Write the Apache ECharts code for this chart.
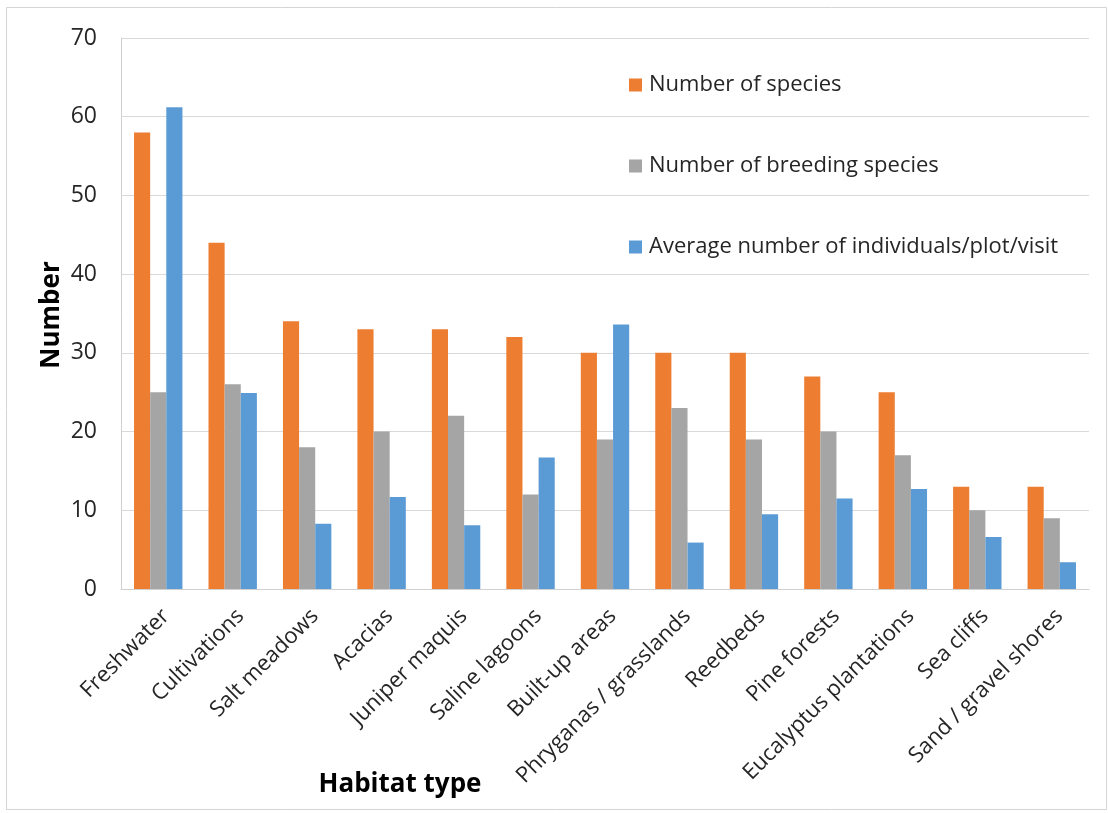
<!DOCTYPE html>
<html>
<head>
<meta charset="utf-8">
<script src="https://cdn.jsdelivr.net/npm/echarts@6/dist/echarts.min.js"></script>
<style>
  html, body { margin: 0; padding: 0; background: #fff; }
  #chart { width: 1108px; height: 813px; }
</style>
</head>
<body>
<div id="chart"></div>
<script>
// Habitat categories along the x axis
const habitats = [
  'Freshwater', 'Cultivations', 'Salt meadows', 'Acacias', 'Juniper maquis',
  'Saline lagoons', 'Built-up areas', 'Phryganas / grasslands', 'Reedbeds',
  'Pine forests', 'Eucalyptus plantations', 'Sea cliffs', 'Sand / gravel shores'
];

// Series values per habitat
const numberOfSpecies = [58, 44, 34, 33, 33, 32, 30, 30, 30, 27, 25, 13, 13];
const breedingSpecies = [25, 26, 18, 20, 22, 12, 19, 23, 19, 20, 17, 10, 9];
const avgIndividuals = [61.2, 24.9, 8.3, 11.7, 8.1, 16.7, 33.6, 5.9, 9.5, 11.5, 12.7, 6.6, 3.4];

const seriesNames = [
  'Number of species',
  'Number of breeding species',
  'Average number of individuals/plot/visit'
];
const seriesColors = ['#ED7D31', '#A5A5A5', '#5B9BD5'];

const FONT = '"Open Sans", "Liberation Sans", Arial, sans-serif';
const TEXT = '#262626';

const chart = echarts.init(document.getElementById('chart'));

const option = {
  backgroundColor: '#ffffff',
  animation: false,
  textStyle: { fontFamily: FONT },
  grid: { left: 121, right: 19, top: 38, bottom: 224, containLabel: false },
  legend: {
    orient: 'vertical',
    left: 624,
    top: 68,
    itemWidth: 13,
    itemHeight: 13,
    itemGap: 57,
    icon: 'rect',
    textStyle: { fontFamily: FONT, fontSize: 22, color: TEXT, lineHeight: 24, padding: [0, 0, 0, 2] },
    data: seriesNames
  },
  xAxis: {
    type: 'category',
    data: habitats,
    axisLine: { show: true, lineStyle: { color: '#d0d0d0', width: 1 } },
    axisTick: { show: false },
    axisLabel: {
      rotate: 45,
      interval: 0,
      margin: 16,
      verticalAlign: 'top',
      fontFamily: FONT,
      fontSize: 22,
      color: TEXT
    }
  },
  yAxis: {
    type: 'value',
    min: 0,
    max: 70,
    interval: 10,
    axisLine: { show: true, lineStyle: { color: '#d0d0d0', width: 1 } },
    axisTick: { show: false },
    splitLine: { show: true, lineStyle: { color: '#d9d9d9', width: 1 } },
    axisLabel: { fontFamily: FONT, fontSize: 23, color: TEXT, margin: 24 }
  },
  series: [
    { name: seriesNames[0], type: 'bar', data: numberOfSpecies, itemStyle: { color: seriesColors[0] }, barGap: '0%', barCategoryGap: '35%' },
    { name: seriesNames[1], type: 'bar', data: breedingSpecies, itemStyle: { color: seriesColors[1] }, barGap: '0%', barCategoryGap: '35%' },
    { name: seriesNames[2], type: 'bar', data: avgIndividuals, itemStyle: { color: seriesColors[2] }, barGap: '0%', barCategoryGap: '35%' }
  ],
  graphic: [
    {
      // outer frame
      type: 'rect',
      shape: { x: 6.5, y: 7.5, width: 1100, height: 802 },
      style: { fill: 'none', stroke: '#d4d4d4', lineWidth: 1 },
      silent: true
    },
    {
      type: 'text',
      x: 400,
      y: 785,
      style: { text: 'Habitat type', font: 'bold 26px ' + FONT, fill: '#000', align: 'center', verticalAlign: 'middle' }
    },
    {
      type: 'text',
      x: 52,
      y: 315,
      rotation: Math.PI / 2,
      style: { text: 'Number', font: 'bold 26px ' + FONT, fill: '#000', align: 'center', verticalAlign: 'middle' }
    }
  ]
};

chart.setOption(option);
</script>
</body>
</html>
